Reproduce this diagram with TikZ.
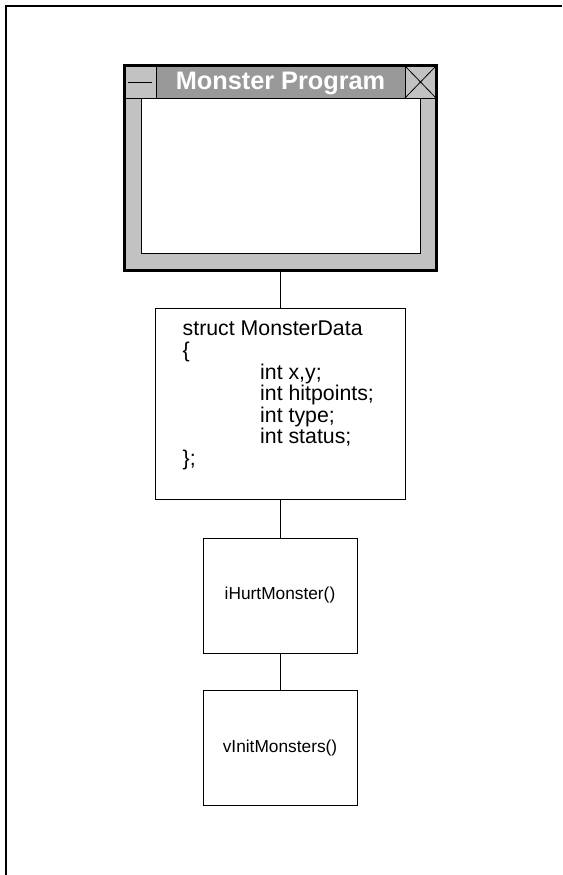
\documentclass[tikz,border=0pt]{standalone}
\usepackage{fontspec}
\setmainfont{Liberation Sans}
\usetikzlibrary{positioning}
\definecolor{titlegray}{gray}{0.6}
\definecolor{framegray}{gray}{0.76}
\tikzset{
  funcbox/.style={draw,line width=1pt,minimum width=154pt,minimum height=115pt,
    inner sep=0pt,outer sep=0pt,font=\fontsize{17.3}{19}\selectfont},
  winbtn/.style={draw,line width=0.8pt,fill=framegray}
}
\begin{document}
\begin{tikzpicture}[x=1pt,y=-1pt]
    \useasboundingbox (0,0) rectangle (562,875);
    \draw[line width=2pt] (6,875)--(6,6)--(562,6);

    % window
    \node[draw,line width=3pt,fill=framegray,anchor=north west,inner sep=0pt,outer sep=0pt,
      minimum width=312pt,minimum height=204pt] (win) at (124,66) {};
    \fill[titlegray] (124,66) rectangle (436,98);
    \draw[line width=0.8pt] (124,98)--(436,98);
    \draw[winbtn] (124,66) rectangle (156,98);
    \draw[line width=0.8pt] (128,82)--(152,82);
    \draw[winbtn] (405,66) rectangle (436,98);
    \draw[line width=0.8pt] (405,66)--(436,98) (405,98)--(436,66);
    \draw[line width=0.8pt,fill=white] (141,98) rectangle (420,253);
    \draw[line width=3pt] (win.north west) rectangle (win.south east);
    \node[text=white,font=\bfseries\fontsize{25.3}{25}\selectfont] (title) at (280.5,83.5) {Monster Program};

    % struct
    \node[draw,line width=1pt,outer sep=0pt,minimum width=250pt,minimum height=191pt] (data) at (280,403.5) {};
    \node[anchor=north west,align=left,inner sep=0pt,font=\fontsize{21.3}{21.6}\selectfont]
      (datatext) at (182.5,321) {struct MonsterData\\
      \{\\
      \hspace*{77.5pt}int x,y;\\
      \hspace*{77.5pt}int hitpoints;\\
      \hspace*{77.5pt}int type;\\
      \hspace*{77.5pt}int status;\\
      \};};

    \node[funcbox] (hurt) at (280,595.5) {iHurtMonster()};
    \node[funcbox] (init) at (280,748) {vInitMonsters()};

    \draw[line width=1pt] (win.south)--(data.north);
    \draw[line width=1pt] (data.south)--(hurt.north);
    \draw[line width=1pt] (hurt.south)--(init.north);
\end{tikzpicture}
\end{document}
